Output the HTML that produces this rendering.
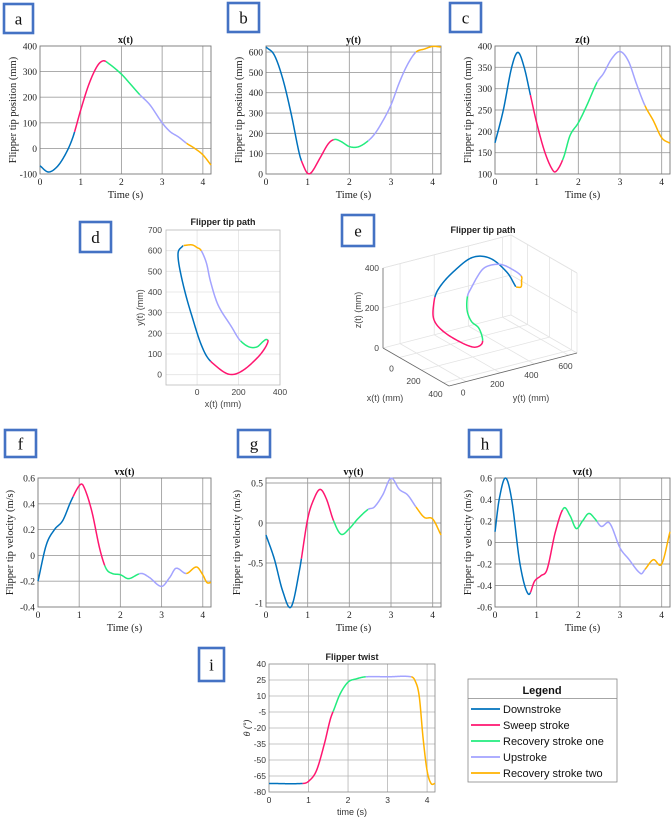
<!DOCTYPE html>
<html><head><meta charset="utf-8"><style>
html,body{margin:0;padding:0;background:#fff;}
svg{display:block;}
.serif{font-family:"Liberation Serif",serif;}
.sans{font-family:"Liberation Sans",sans-serif;}
</style></head><body>
<svg id="fig" width="671" height="820" viewBox="0 0 671 820" xmlns="http://www.w3.org/2000/svg"></svg>
<script>
// ---- data ----
const phaseBounds = [0, 0.85, 1.62, 2.45, 3.6, 4.2];
const phaseNames = ["Downstroke","Sweep stroke","Recovery stroke one","Upstroke","Recovery stroke two"];
const phaseColors = ["#0072BD","#FF1670","#22EC7E","#A3A3FF","#FFB300"];

const xT = [0,0.2,0.4,0.6,0.8,1.0,1.2,1.4,1.55,1.7,2.0,2.2,2.45,2.7,3.0,3.2,3.4,3.6,3.8,4.0,4.2];
const xV = [-68,-92,-75,-30,40,150,250,320,342,330,290,255,210,170,100,65,45,20,0,-25,-65];
const yT = [0,0.2,0.4,0.6,0.8,0.9,1.0,1.1,1.3,1.5,1.65,1.8,2.0,2.2,2.4,2.6,2.8,3.0,3.2,3.4,3.6,3.8,4.0,4.2];
const yV = [625,585,470,300,100,40,3,10,80,150,170,160,135,133,155,195,260,340,450,540,600,615,628,625];
const zT = [0,0.2,0.4,0.55,0.7,0.85,1.0,1.2,1.4,1.5,1.65,1.8,2.0,2.2,2.45,2.6,2.8,3.0,3.2,3.4,3.6,3.8,4.0,4.2];
const zV = [173,250,350,385,350,285,220,150,107,110,140,190,220,260,315,335,370,387,365,310,260,225,185,172];

const vxT = [0,0.2,0.4,0.6,0.8,1.0,1.1,1.3,1.5,1.65,1.8,2.0,2.2,2.5,2.7,3.0,3.2,3.35,3.6,3.85,4.0,4.1,4.2];
const vxV = [-0.2,0.08,0.2,0.27,0.42,0.54,0.54,0.35,0.05,-0.1,-0.14,-0.15,-0.18,-0.14,-0.17,-0.24,-0.17,-0.1,-0.14,-0.09,-0.15,-0.21,-0.21];
const vyT = [0,0.2,0.4,0.6,0.8,1.0,1.15,1.3,1.45,1.62,1.8,2.0,2.2,2.45,2.6,2.8,3.0,3.2,3.4,3.6,3.8,4.0,4.2];
const vyV = [-0.15,-0.45,-0.85,-1.05,-0.6,0.05,0.3,0.42,0.3,0.03,-0.14,-0.07,0.05,0.17,0.2,0.35,0.56,0.42,0.35,0.2,0.07,0.05,-0.15];
const vzT = [0,0.1,0.25,0.4,0.6,0.8,0.95,1.1,1.25,1.45,1.65,1.8,1.95,2.1,2.25,2.4,2.55,2.75,3.0,3.2,3.5,3.6,3.8,4.0,4.2];
const vzV = [0.1,0.4,0.6,0.4,-0.2,-0.48,-0.36,-0.31,-0.25,0.1,0.32,0.25,0.13,0.2,0.27,0.22,0.15,0.18,-0.05,-0.15,-0.29,-0.25,-0.16,-0.2,0.1];
const twT = [0,0.85,1.0,1.2,1.4,1.55,1.65,1.8,2.0,2.2,2.45,3.0,3.6,3.7,3.8,3.9,4.0,4.1,4.2];
const twV = [-72,-72,-70,-60,-35,-12,-2,12,23,26,28,28,28,24,10,-30,-60,-72,-72];

const tTicks = [0,1,2,3,4];
const xTicks = [-100,0,100,200,300,400];
const yTicks = [0,100,200,300,400,500,600];
const zTicks = [100,150,200,250,300,350,400];
const vxTicks = [-0.4,-0.2,0,0.2,0.4,0.6];
const vyTicks = [-1,-0.5,0,0.5];
const vzTicks = [-0.6,-0.4,-0.2,0,0.2,0.4,0.6];
const twTicks = [-80,-65,-50,-35,-20,-5,10,25,40];
const dXTicks = [0,200,400];
const dYTicks = [0,100,200,300,400,500,600,700];
const eXTicks = [0,200,400];
const eYTicks = [0,200,400,600];
const eZTicks = [0,200,400];

// ---- helpers ----
const NS="http://www.w3.org/2000/svg";
const svg=document.getElementById('fig');
function el(tag,attrs,parent){const e=document.createElementNS(NS,tag);for(const k in attrs)e.setAttribute(k,attrs[k]);(parent||svg).appendChild(e);return e;}
function txt(s,x,y,attrs,parent){const e=el('text',Object.assign({x:x,y:y},attrs),parent);e.textContent=s;return e;}
function interp(T,V,t){
  let n=T.length;if(t<=T[0])return V[0];if(t>=T[n-1])return V[n-1];
  let i=0;while(i<n-2&&t>T[i+1])i++;
  const h=T[i+1]-T[i],u=(t-T[i])/h;
  const m=j=>{if(j<=0)return (V[1]-V[0])/(T[1]-T[0]);if(j>=n-1)return (V[n-1]-V[n-2])/(T[n-1]-T[n-2]);return (V[j+1]-V[j-1])/(T[j+1]-T[j-1]);};
  const m0=m(i)*h,m1=m(i+1)*h,u2=u*u,u3=u2*u;
  return (2*u3-3*u2+1)*V[i]+(u3-2*u2+u)*m0+(-2*u3+3*u2)*V[i+1]+(u3-u2)*m1;
}
function phaseSamples(p){const a=[];const t0=phaseBounds[p],t1=phaseBounds[p+1];const n=Math.ceil((t1-t0)/0.01);for(let k=0;k<=n;k++)a.push(t0+(t1-t0)*k/n);return a;}
function fmt(v){return String(Math.round(v*100)/100);}

// 2D time-series chart (serif style)
function tsChart(name,L,R,T,B,ymin,ymax,yt,TT,VV,title,ylabel,xlabel,ylabX,font){
  const g=el('g',{});
  
  
  const sx=t=>L+(t-0)/(4.2)*(R-L), sy=v=>B-(v-ymin)/(ymax-ymin)*(B-T);
  const grid=el('g',{stroke:'#a0a0a0','stroke-width':0.9},g);
  
  
  tTicks.forEach(t=>{if(t>0)el('line',{x1:sx(t),x2:sx(t),y1:T,y2:B},grid);});
  yt.forEach(v=>{const y=sy(v);if(y>T+0.5&&y<B-0.5)el('line',{x1:L,x2:R,y1:y,y2:y},grid);});
  el('rect',{x:L,y:T,width:R-L,height:B-T,fill:'none',stroke:'#777','stroke-width':0.9},g);
  for(let p=0;p<5;p++){
    const pts=phaseSamples(p).map(t=>sx(t).toFixed(2)+','+sy(interp(TT,VV,t)).toFixed(2)).join(' ');
    const pl=el('polyline',{points:pts,fill:'none',stroke:phaseColors[p],'stroke-width':1.5},g);
    
    
  }
  const f=font||'serif';
  const tk=el('g',{class:f,'font-size':9.5,fill:'#222'},g);
  
  
  tTicks.forEach(t=>txt(String(t),sx(t),B+11,{'text-anchor':'middle'},tk));
  yt.forEach(v=>txt(fmt(v),L-3,sy(v)+3.5,{'text-anchor':'end'},tk));
  const ti=txt(title,(L+R)/2,T-3,{class:'serif','font-size':10,'font-weight':'bold','text-anchor':'middle',fill:'#111'},g);
  
  const xl=txt(xlabel,(L+R)/2,B+24,{class:'serif','font-size':10.5,'text-anchor':'middle',fill:'#222'},g);
  
  const yl=txt(ylabel,0,0,{class:'serif','font-size':10.5,'text-anchor':'middle',fill:'#222',transform:`translate(${ylabX},${(T+B)/2}) rotate(-90)`},g);
  
  return g;
}
function panelLabel(ch,x,y,w,h){
  const g=el('g',{});
  
  
  el('rect',{x:x,y:y,width:w,height:h,fill:'#fff',stroke:'#4472C4','stroke-width':2.6},g);
  txt(ch,x+w/2,y+h/2+6,{class:'serif','font-size':17,'text-anchor':'middle',fill:'#111'},g);
}

// ---- top row ----
panelLabel('a',4,4,29,29);
panelLabel('b',228,3,31,29);
panelLabel('c',450,3,31,29);
tsChart('chart-x-position',40,211,46,174,-100,400,xTicks,xT,xV,'x(t)','Flipper tip position (mm)','Time (s)',16);
tsChart('chart-y-position',266,441,46,174,0,630,yTicks,yT,yV,'y(t)','Flipper tip position (mm)','Time (s)',242);
tsChart('chart-z-position',495,670,46,174,100,400,zTicks,zT,zV,'z(t)','Flipper tip position (mm)','Time (s)',471);

// ---- d: 2D path ----
(function(){
  const L=166,R=280,T=230,B=385,xmin=-150,xmax=400,ymin=-50,ymax=700;
  const g=el('g',{});
  
  
  const sx=v=>L+(v-xmin)/(xmax-xmin)*(R-L), sy=v=>B-(v-ymin)/(ymax-ymin)*(B-T);
  const grid=el('g',{stroke:'#e3e3e3','stroke-width':0.8},g);
  dXTicks.forEach(v=>el('line',{x1:sx(v),x2:sx(v),y1:T,y2:B},grid));
  dYTicks.forEach(v=>el('line',{x1:L,x2:R,y1:sy(v),y2:sy(v)},grid));
  el('rect',{x:L,y:T,width:R-L,height:B-T,fill:'none',stroke:'#bbb','stroke-width':0.8},g);
  for(let p=0;p<5;p++){
    const pts=phaseSamples(p).map(t=>sx(interp(xT,xV,t)).toFixed(2)+','+sy(interp(yT,yV,t)).toFixed(2)).join(' ');
    const pl=el('polyline',{points:pts,fill:'none',stroke:phaseColors[p],'stroke-width':1.5},g);
    
    
  }
  const tk=el('g',{class:'sans','font-size':8.5,fill:'#444'},g);
  dXTicks.forEach(v=>txt(String(v),sx(v),B+10,{'text-anchor':'middle'},tk));
  dYTicks.forEach(v=>txt(String(v),L-4,sy(v)+3,{'text-anchor':'end'},tk));
  txt('Flipper tip path',(L+R)/2,T-5,{class:'sans','font-size':9,'font-weight':'bold','text-anchor':'middle',fill:'#222'},g);
  txt('x(t) (mm)',(L+R)/2,B+22,{class:'sans','font-size':9,'text-anchor':'middle',fill:'#444'},g);
  txt('y(t) (mm)',0,0,{class:'sans','font-size':9,'text-anchor':'middle',fill:'#444',transform:`translate(143,${(T+B)/2}) rotate(-90)`},g);
})();
panelLabel('d',80,222,31,30);

// ---- e: 3D path ----
(function(){
  const A=[383,348],B=[449,386],C=[577,353];
  const X0=-150,X1=450,Y0=-100,Y1=650,Z0=0,Z1=400,zk=80/400;
  const P=(X,Y,Z)=>{const fx=(X-X0)/(X1-X0),fy=(Y-Y0)/(Y1-Y0);return [A[0]+fx*(B[0]-A[0])+fy*(C[0]-B[0]), A[1]+fx*(B[1]-A[1])+fy*(C[1]-B[1])-(Z-Z0)*zk];};
  const g=el('g',{});
  
  
  const grid=el('g',{stroke:'#e3e3e3','stroke-width':0.8,fill:'none'},g);
  const ln=(p,q,par,attrs)=>el('line',Object.assign({x1:p[0],y1:p[1],x2:q[0],y2:q[1]},attrs||{}),par);
  // floor grid
  eXTicks.forEach(v=>ln(P(v,Y0,0),P(v,Y1,0),grid));
  eYTicks.forEach(v=>ln(P(X0,v,0),P(X1,v,0),grid));
  // back wall at X=X0
  eYTicks.forEach(v=>ln(P(X0,v,0),P(X0,v,Z1),grid));
  eZTicks.forEach(v=>ln(P(X0,Y0,v),P(X0,Y1,v),grid));
  // back wall at Y=Y1
  eXTicks.forEach(v=>ln(P(v,Y1,0),P(v,Y1,Z1),grid));
  eZTicks.forEach(v=>ln(P(X0,Y1,v),P(X1,Y1,v),grid));
  // edges
  ln(P(X0,Y0,Z1),P(X0,Y1,Z1),grid);ln(P(X0,Y1,Z1),P(X1,Y1,Z1),grid);ln(P(X0,Y1,0),P(X0,Y1,Z1),grid);ln(P(X1,Y1,0),P(X1,Y1,Z1),grid);
  const ax=el('g',{stroke:'#666','stroke-width':0.8},g);
  ln(P(X0,Y0,0),P(X1,Y0,0),ax);ln(P(X1,Y0,0),P(X1,Y1,0),ax);ln(P(X0,Y0,0),P(X0,Y0,Z1),ax);
  for(let p=0;p<5;p++){
    const pts=phaseSamples(p).map(t=>{const q=P(interp(xT,xV,t),interp(yT,yV,t),interp(zT,zV,t));return q[0].toFixed(2)+','+q[1].toFixed(2);}).join(' ');
    const pl=el('polyline',{points:pts,fill:'none',stroke:phaseColors[p],'stroke-width':1.5},g);
    
    
  }
  const tk=el('g',{class:'sans','font-size':8.5,fill:'#444'},g);
  eXTicks.forEach(v=>{const q=P(v,Y0,0);txt(String(v),q[0]-8,q[1]+14,{'text-anchor':'middle'},tk);});
  eYTicks.forEach(v=>{const q=P(X1,v,0);txt(String(v),q[0]-3,q[1]+14,{'text-anchor':'middle'},tk);});
  eZTicks.forEach(v=>{const q=P(X0,Y0,v);txt(String(v),q[0]-4,q[1]+3,{'text-anchor':'end'},tk);});
  txt('Flipper tip path',483,233,{class:'sans','font-size':9,'font-weight':'bold','text-anchor':'middle',fill:'#222'},g);
  txt('x(t) (mm)',385,401,{class:'sans','font-size':9,'text-anchor':'middle',fill:'#444'},g);
  txt('y(t) (mm)',531,401,{class:'sans','font-size':9,'text-anchor':'middle',fill:'#444'},g);
  txt('z(t) (mm)',0,0,{class:'sans','font-size':9,'text-anchor':'middle',fill:'#444',transform:'translate(361,310) rotate(-90)'},g);
})();
panelLabel('e',342,215,32,31);

// ---- velocity row ----
panelLabel('f',5,430,31,27);
panelLabel('g',238,430,32,27);
panelLabel('h',469,430,32,27);
tsChart('chart-vx',38,211,478,607,-0.4,0.6,vxTicks,vxT,vxV,'vx(t)','Flipper tip velocity (m/s)','Time (s)',13);
tsChart('chart-vy',266,441,478,607,-1.05,0.5625,vyTicks,vyT,vyV,'vy(t)','Flipper tip velocity (m/s)','Time (s)',240);
tsChart('chart-vz',495,670,478,607,-0.6,0.6,vzTicks,vzT,vzV,'vz(t)','Flipper tip velocity (m/s)','Time (s)',471);

// ---- i: twist ----
(function(){
  const L=269,R=435,T=664,B=792,ymin=-80,ymax=40;
  const g=el('g',{});
  
  
  const sx=t=>L+t/4.2*(R-L), sy=v=>B-(v-ymin)/(ymax-ymin)*(B-T);
  const grid=el('g',{stroke:'#b5b5b5','stroke-width':0.8},g);
  tTicks.forEach(t=>{if(t>0)el('line',{x1:sx(t),x2:sx(t),y1:T,y2:B},grid);});
  twTicks.forEach(v=>{if(v>ymin&&v<ymax)el('line',{x1:L,x2:R,y1:sy(v),y2:sy(v)},grid);});
  el('rect',{x:L,y:T,width:R-L,height:B-T,fill:'none',stroke:'#888','stroke-width':0.8},g);
  for(let p=0;p<5;p++){
    const pts=phaseSamples(p).map(t=>sx(t).toFixed(2)+','+sy(interp(twT,twV,t)).toFixed(2)).join(' ');
    const pl=el('polyline',{points:pts,fill:'none',stroke:phaseColors[p],'stroke-width':1.5},g);
    
    
  }
  const tk=el('g',{class:'sans','font-size':8.5,fill:'#333'},g);
  tTicks.forEach(t=>txt(String(t),sx(t),B+11,{'text-anchor':'middle'},tk));
  twTicks.forEach(v=>txt(String(v),L-3,sy(v)+3,{'text-anchor':'end'},tk));
  txt('Flipper twist',(L+R)/2,T-4,{class:'sans','font-size':9,'font-weight':'bold','text-anchor':'middle',fill:'#222'},g);
  txt('time (s)',(L+R)/2,B+23,{class:'sans','font-size':9,'text-anchor':'middle',fill:'#333'},g);
  txt('θ (°)',0,0,{class:'sans','font-size':9,'font-style':'italic','text-anchor':'middle',fill:'#333',transform:`translate(250,${(T+B)/2}) rotate(-90)`},g);
})();
panelLabel('i',199,648,25,33);

// ---- legend ----
(function(){
  const g=el('g',{});
  
  
  el('rect',{x:468,y:679,width:149,height:103,fill:'#fff',stroke:'#888','stroke-width':0.8},g);
  txt('Legend',542,694,{class:'sans','font-size':11,'font-weight':'bold','text-anchor':'middle',fill:'#111'},g);
  el('line',{x1:468,x2:617,y1:698.5,y2:698.5,stroke:'#888','stroke-width':0.8},g);
  phaseNames.forEach((n,i)=>{
    const y=709+i*16;
    const e=el('g',{},g);
    
    
    el('line',{x1:471,x2:500,y1:y,y2:y,stroke:phaseColors[i],'stroke-width':1.8},e);
    txt(n,503,y+4,{class:'sans','font-size':11,fill:'#111'},e);
  });
})();
</script>
</body></html>
